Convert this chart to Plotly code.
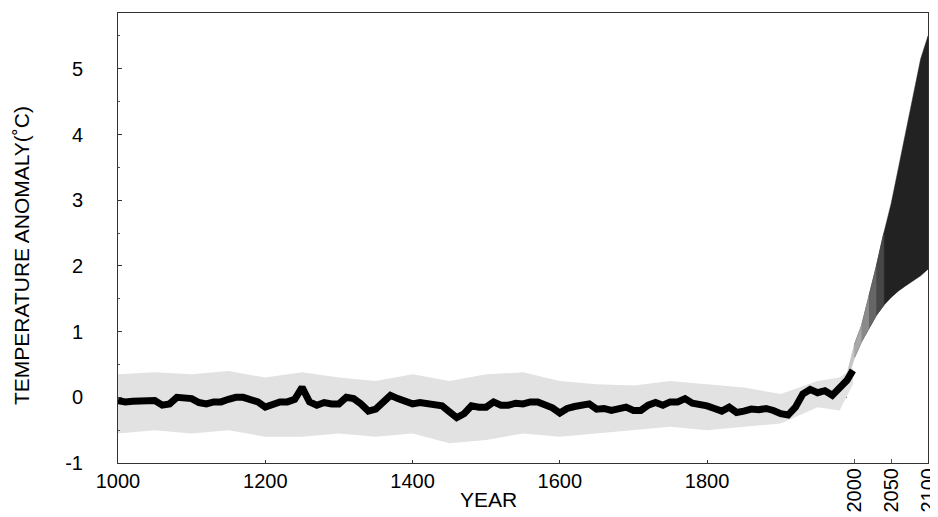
import plotly.graph_objects as go

# ---- data ----
recon_years = [1000, 1010, 1020, 1030, 1040, 1050, 1060, 1070, 1080, 1090,
               1100, 1110, 1120, 1130, 1140, 1150, 1160, 1170, 1180, 1190,
               1200, 1210, 1220, 1230, 1240, 1250, 1260, 1270, 1280, 1290,
               1300, 1310, 1320, 1330, 1340, 1350, 1360, 1370, 1380, 1390,
               1400, 1410, 1420, 1430, 1440, 1450, 1460, 1470, 1480, 1490,
               1500, 1510, 1520, 1530, 1540, 1550, 1560, 1570, 1580, 1590,
               1600, 1610, 1620, 1630, 1640, 1650, 1660, 1670, 1680, 1690,
               1700, 1710, 1720, 1730, 1740, 1750, 1760, 1770, 1780, 1790,
               1800, 1810, 1820, 1830, 1840, 1850, 1860, 1870, 1880, 1890,
               1900, 1910, 1920, 1930, 1940, 1950, 1960, 1970, 1980, 1990, 1998]
recon_temp = [-0.05, -0.07, -0.06, -0.05, -0.05, -0.05, -0.12, -0.10, 0.00, 0.00,
              -0.02, -0.08, -0.10, -0.07, -0.07, -0.03, 0.00, 0.00, -0.03, -0.07,
              -0.15, -0.12, -0.07, -0.07, -0.03, 0.15, -0.07, -0.12, -0.08, -0.10,
              -0.10, 0.00, -0.02, -0.10, -0.21, -0.18, -0.06, 0.03, -0.02, -0.06,
              -0.10, -0.08, -0.10, -0.10, -0.13, -0.22, -0.31, -0.25, -0.13, -0.15,
              -0.15, -0.07, -0.12, -0.12, -0.09, -0.10, -0.07, -0.07, -0.11, -0.16,
              -0.24, -0.17, -0.14, -0.12, -0.10, -0.18, -0.17, -0.20, -0.17, -0.15,
              -0.20, -0.20, -0.12, -0.08, -0.12, -0.07, -0.07, -0.02, -0.09, -0.10,
              -0.13, -0.17, -0.21, -0.15, -0.23, -0.21, -0.18, -0.19, -0.17, -0.20,
              -0.25, -0.27, -0.15, 0.05, 0.12, 0.07, 0.10, 0.03, 0.16, 0.26, 0.41]

band_years = [1000, 1050, 1100, 1150, 1200, 1250, 1300, 1350, 1400, 1450, 1500,
              1550, 1600, 1650, 1700, 1750, 1800, 1850, 1900, 1950, 1980, 1998]
band_upper = [0.35, 0.38, 0.35, 0.40, 0.30, 0.38, 0.30, 0.25, 0.35, 0.25, 0.35,
              0.38, 0.25, 0.20, 0.18, 0.25, 0.20, 0.15, 0.05, 0.25, 0.30, 0.45]
band_lower = [-0.55, -0.50, -0.55, -0.50, -0.60, -0.60, -0.55, -0.60, -0.55, -0.70, -0.65,
              -0.55, -0.60, -0.55, -0.50, -0.45, -0.50, -0.45, -0.40, -0.15, -0.20, 0.20]

proj_years = [1990, 2000, 2010, 2020, 2030, 2040, 2050, 2060, 2070, 2080, 2090, 2100]
proj_upper = [0.35, 0.80, 1.10, 1.55, 2.00, 2.50, 2.95, 3.50, 4.05, 4.60, 5.15, 5.50]
proj_lower = [0.25, 0.60, 0.85, 1.05, 1.25, 1.40, 1.52, 1.62, 1.70, 1.78, 1.85, 1.95]

y_ticks = [-1, 0, 1, 2, 3, 4, 5]
x_ticks_flat = [1000, 1200, 1400, 1600, 1800]
x_ticks_rot = [2000, 2050, 2100]

# lighter shading for the first decades of the projection envelope
proj_light_colors = ['#c4c4c4', '#a8a8a8', '#8a8a8a', '#666666', '#474747']
PROJ_DARK = '#222222'

FONT = "Liberation Sans"

fig = go.Figure()

# reconstruction uncertainty (light grey stipple)
fig.add_trace(go.Scatter(x=band_years + band_years[::-1],
                         y=band_upper + band_lower[::-1],
                         fill='toself', fillcolor='#e2e2e2',
                         line=dict(width=0), mode='lines',
                         hoverinfo='skip', showlegend=False))

# projection envelope: dark base polygon
fig.add_trace(go.Scatter(x=proj_years[1:] + proj_years[1:][::-1],
                         y=proj_upper[1:] + proj_lower[1:][::-1],
                         fill='toself', fillcolor=PROJ_DARK,
                         line=dict(width=0.5, color=PROJ_DARK), mode='lines',
                         hoverinfo='skip', showlegend=False))

# lighter early segments
for i, col in enumerate(proj_light_colors):
    xs = proj_years[i:i + 2]
    up = proj_upper[i:i + 2]
    lo = proj_lower[i:i + 2]
    fig.add_trace(go.Scatter(x=xs + xs[::-1], y=up + lo[::-1],
                             fill='toself', fillcolor=col,
                             line=dict(width=0.8, color=col),
                             mode='lines', hoverinfo='skip', showlegend=False))

# reconstruction / instrumental series
fig.add_trace(go.Scatter(x=recon_years, y=recon_temp, mode='lines',
                         line=dict(color='black', width=7),
                         showlegend=False))

# hidden trace on the second x axis (rotated labels)
fig.add_trace(go.Scatter(x=[x_ticks_rot[0]], y=[0], xaxis='x2', mode='markers',
                         marker=dict(opacity=0), hoverinfo='skip', showlegend=False))

fig.add_shape(type='line', x0=1000, x1=1998, y0=0, y1=0, layer='below',
              line=dict(color='#444444', width=1, dash='dash'))

# the page places the figure 8 px from the top-left corner
fig.update_layout(
    width=930, height=509,
    margin=dict(l=110, r=10, t=5, b=54, autoexpand=False),
    paper_bgcolor='white', plot_bgcolor='white',
    font=dict(family=FONT, size=20, color='black'),
    xaxis=dict(range=[1000, 2100], tickvals=x_ticks_flat,
               ticktext=[str(v) for v in x_ticks_flat],
               showgrid=False, zeroline=False, automargin=False,
               showline=True, mirror=True, linecolor='#333333', linewidth=1,
               ticks='inside', ticklen=3, tickcolor='#333333',
               ticklabelstandoff=0, tickfont=dict(size=20)),
    xaxis2=dict(range=[1000, 2100], overlaying='x', side='bottom', anchor='y',
                tickvals=x_ticks_rot, ticktext=[str(v) for v in x_ticks_rot],
                tickangle=-90, showgrid=False, zeroline=False, showline=False,
                automargin=False, ticklabeloverflow='allow',
                ticks='inside', ticklen=4, tickcolor='#555555',
                ticklabelstandoff=0, tickfont=dict(size=20)),
    yaxis=dict(range=[-1, 5.85], tickvals=y_ticks,
               ticktext=[str(v) for v in y_ticks],
               showgrid=False, zeroline=False, automargin=False,
               showline=True, mirror=True, linecolor='#333333', linewidth=1,
               ticks='inside', ticklen=4, tickcolor='#333333',
               minor=dict(ticks='inside', ticklen=2, dtick=0.5, tickcolor='#555555'),
               ticklabelstandoff=30, tickfont=dict(size=20)),
    annotations=[
        dict(text='TEMPERATURE ANOMALY(˚C)', xref='paper', yref='paper',
             x=-0.1198, y=0.462, xanchor='center', yanchor='middle',
             textangle=-90, showarrow=False, font=dict(size=21, family=FONT)),
        dict(text='YEAR', xref='paper', yref='paper', x=0.457, y=-0.082,
             xanchor='center', yanchor='middle', showarrow=False,
             font=dict(size=21, family=FONT)),
    ],
)

fig.write_html("out.html")
